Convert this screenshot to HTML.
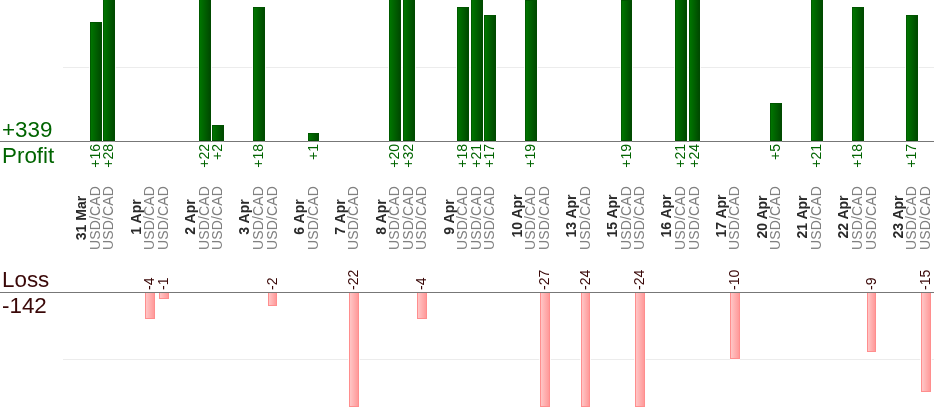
<!DOCTYPE html>
<html><head><meta charset="utf-8"><title>Profit / Loss</title>
<style>
html,body{margin:0;padding:0;background:#fff;}
body{width:934px;height:420px;position:relative;overflow:hidden;font-family:"Liberation Sans",sans-serif;}
.grid{position:absolute;left:63px;right:0;height:1px;background:#ececec;}
.line{position:absolute;left:0;right:0;height:1px;background:#777;}
.b{position:absolute;box-sizing:border-box;box-shadow:-1px 0 0 rgba(255,255,255,.8),1px 0 0 rgba(255,255,255,.8);}
.g::after{content:"";position:absolute;left:-1px;right:-1px;bottom:-2px;height:1px;background:rgba(255,255,255,.22);}
.l::after{content:"";position:absolute;left:-1px;right:-1px;bottom:-2px;height:1px;background:rgba(255,255,255,.8);}
.g{width:11.9px;background:linear-gradient(to right,#007500,#004a00);border:1px solid;border-color:#005400 #004a00 #004e00 #005a00;}
.l{width:9.75px;background:linear-gradient(to right,#ffc6c6,#ff9a9a);border:1px solid #ff8e8e;border-top:none;}
.r{position:absolute;transform-origin:0 0;transform:rotate(-90deg);font-size:14px;line-height:14px;height:14px;white-space:nowrap;will-change:transform;}
.d{top:268px;width:100px;text-align:center;font-weight:bold;color:#2a2a2a;}
.p{top:268px;width:100px;text-align:center;color:#808080;letter-spacing:0.15px;}
.gl{top:204px;width:60px;text-align:right;color:#006400;}
.ll{top:290px;width:60px;text-align:left;color:#3a0808;}
.big{position:absolute;left:2px;font-size:22.4px;line-height:25px;white-space:nowrap;will-change:transform;}
.bg{color:#006400;}
.br{color:#3a0808;}
</style></head><body>
<div class="grid" style="top:67px"></div>
<div class="grid" style="top:359px"></div>
<div class="line" style="top:141px"></div>
<div class="r d" style="left:74.15px;top:268px">31 Mar</div>
<div class="r p" style="left:87.76px">USD/CAD</div>
<div class="b g" style="left:89.76px;top:22px;height:119px"></div>
<div class="r gl" style="left:87.76px">+16</div>
<div class="r p" style="left:101.37px">USD/CAD</div>
<div class="b g" style="left:103.37px;top:-4px;height:145px"></div>
<div class="r gl" style="left:101.37px">+28</div>
<div class="r d" style="left:128.59px;top:267px">1 Apr</div>
<div class="r p" style="left:142.20px">USD/CAD</div>
<div class="b l" style="left:145.20px;top:293px;height:26px"></div>
<div class="r ll" style="left:142.20px">-4</div>
<div class="r p" style="left:155.81px">USD/CAD</div>
<div class="b l" style="left:158.81px;top:293px;height:6px"></div>
<div class="r ll" style="left:155.81px">-1</div>
<div class="r d" style="left:183.03px;top:267px">2 Apr</div>
<div class="r p" style="left:196.64px">USD/CAD</div>
<div class="b g" style="left:198.64px;top:-4px;height:145px"></div>
<div class="r gl" style="left:196.64px">+22</div>
<div class="r p" style="left:210.25px">USD/CAD</div>
<div class="b g" style="left:212.25px;top:125px;height:16px"></div>
<div class="r gl" style="left:210.25px">+2</div>
<div class="r d" style="left:237.47px;top:267px">3 Apr</div>
<div class="r p" style="left:251.08px">USD/CAD</div>
<div class="b g" style="left:253.08px;top:7px;height:134px"></div>
<div class="r gl" style="left:251.08px">+18</div>
<div class="r p" style="left:264.69px">USD/CAD</div>
<div class="b l" style="left:267.69px;top:293px;height:13px"></div>
<div class="r ll" style="left:264.69px">-2</div>
<div class="r d" style="left:291.91px;top:267px">6 Apr</div>
<div class="r p" style="left:305.52px">USD/CAD</div>
<div class="b g" style="left:307.52px;top:133px;height:8px"></div>
<div class="r gl" style="left:305.52px">+1</div>
<div class="r d" style="left:332.74px;top:267px">7 Apr</div>
<div class="r p" style="left:346.35px">USD/CAD</div>
<div class="b l" style="left:349.35px;top:293px;height:114px"></div>
<div class="r ll" style="left:346.35px">-22</div>
<div class="r d" style="left:373.57px;top:267px">8 Apr</div>
<div class="r p" style="left:387.18px">USD/CAD</div>
<div class="b g" style="left:389.18px;top:-4px;height:145px"></div>
<div class="r gl" style="left:387.18px">+20</div>
<div class="r p" style="left:400.79px">USD/CAD</div>
<div class="b g" style="left:402.79px;top:-4px;height:145px"></div>
<div class="r gl" style="left:400.79px">+32</div>
<div class="r p" style="left:414.40px">USD/CAD</div>
<div class="b l" style="left:417.40px;top:293px;height:26px"></div>
<div class="r ll" style="left:414.40px">-4</div>
<div class="r d" style="left:441.62px;top:267px">9 Apr</div>
<div class="r p" style="left:455.23px">USD/CAD</div>
<div class="b g" style="left:457.23px;top:7px;height:134px"></div>
<div class="r gl" style="left:455.23px">+18</div>
<div class="r p" style="left:468.84px">USD/CAD</div>
<div class="b g" style="left:470.84px;top:-4px;height:145px"></div>
<div class="r gl" style="left:468.84px">+21</div>
<div class="r p" style="left:482.45px">USD/CAD</div>
<div class="b g" style="left:484.45px;top:15px;height:126px"></div>
<div class="r gl" style="left:482.45px">+17</div>
<div class="r d" style="left:509.67px;top:266px">10 Apr</div>
<div class="r p" style="left:523.28px">USD/CAD</div>
<div class="b g" style="left:525.28px;top:0px;height:141px"></div>
<div class="r gl" style="left:523.28px">+19</div>
<div class="r p" style="left:536.89px">USD/CAD</div>
<div class="b l" style="left:539.89px;top:293px;height:114px"></div>
<div class="r ll" style="left:536.89px">-27</div>
<div class="r d" style="left:564.11px;top:266px">13 Apr</div>
<div class="r p" style="left:577.72px">USD/CAD</div>
<div class="b l" style="left:580.72px;top:293px;height:114px"></div>
<div class="r ll" style="left:577.72px">-24</div>
<div class="r d" style="left:604.94px;top:266px">15 Apr</div>
<div class="r p" style="left:618.55px">USD/CAD</div>
<div class="b g" style="left:620.55px;top:0px;height:141px"></div>
<div class="r gl" style="left:618.55px">+19</div>
<div class="r p" style="left:632.16px">USD/CAD</div>
<div class="b l" style="left:635.16px;top:293px;height:114px"></div>
<div class="r ll" style="left:632.16px">-24</div>
<div class="r d" style="left:659.38px;top:266px">16 Apr</div>
<div class="r p" style="left:672.99px">USD/CAD</div>
<div class="b g" style="left:674.99px;top:-4px;height:145px"></div>
<div class="r gl" style="left:672.99px">+21</div>
<div class="r p" style="left:686.60px">USD/CAD</div>
<div class="b g" style="left:688.60px;top:-4px;height:145px"></div>
<div class="r gl" style="left:686.60px">+24</div>
<div class="r d" style="left:713.82px;top:266px">17 Apr</div>
<div class="r p" style="left:727.43px">USD/CAD</div>
<div class="b l" style="left:730.43px;top:293px;height:66px"></div>
<div class="r ll" style="left:727.43px">-10</div>
<div class="r d" style="left:754.65px;top:267px">20 Apr</div>
<div class="r p" style="left:768.26px">USD/CAD</div>
<div class="b g" style="left:770.26px;top:103px;height:38px"></div>
<div class="r gl" style="left:768.26px">+5</div>
<div class="r d" style="left:795.48px;top:267px">21 Apr</div>
<div class="r p" style="left:809.09px">USD/CAD</div>
<div class="b g" style="left:811.09px;top:-4px;height:145px"></div>
<div class="r gl" style="left:809.09px">+21</div>
<div class="r d" style="left:836.31px;top:267px">22 Apr</div>
<div class="r p" style="left:849.92px">USD/CAD</div>
<div class="b g" style="left:851.92px;top:7px;height:134px"></div>
<div class="r gl" style="left:849.92px">+18</div>
<div class="r p" style="left:863.53px">USD/CAD</div>
<div class="b l" style="left:866.53px;top:293px;height:59px"></div>
<div class="r ll" style="left:863.53px">-9</div>
<div class="r d" style="left:890.75px;top:267px">23 Apr</div>
<div class="r p" style="left:904.36px">USD/CAD</div>
<div class="b g" style="left:906.36px;top:15px;height:126px"></div>
<div class="r gl" style="left:904.36px">+17</div>
<div class="r p" style="left:917.97px">USD/CAD</div>
<div class="b l" style="left:920.97px;top:293px;height:99px"></div>
<div class="r ll" style="left:917.97px">-15</div>
<div class="line" style="top:292px"></div>
<div class="big bg" style="top:117px">+339</div>
<div class="big bg" style="top:143px">Profit</div>
<div class="big br" style="top:267px">Loss</div>
<div class="big br" style="top:293px">-142</div>
</body></html>
